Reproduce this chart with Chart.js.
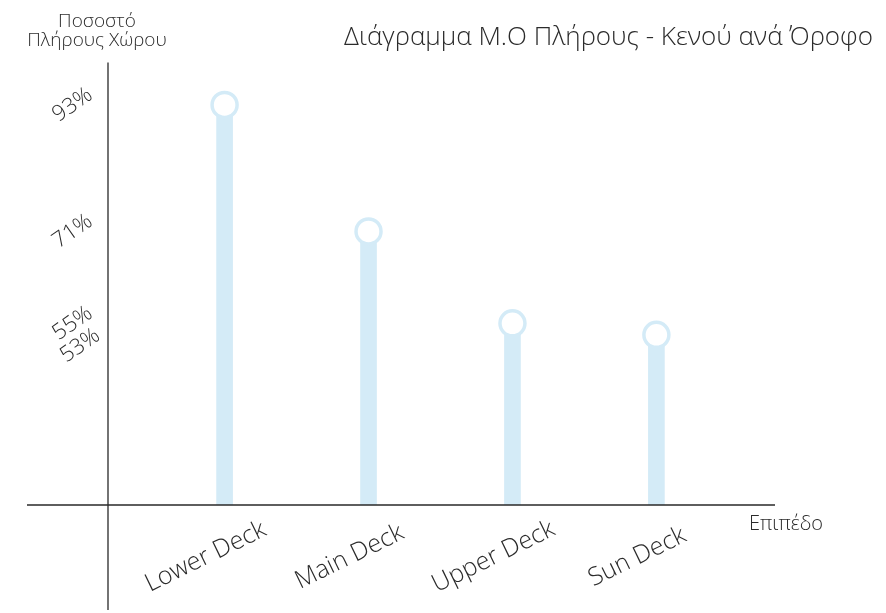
<!DOCTYPE html>
<html>
<head>
<meta charset="utf-8">
<title>Διάγραμμα Μ.Ο Πλήρους - Κενού ανά Όροφο</title>
<script src="https://cdn.jsdelivr.net/npm/chart.js@4/dist/chart.umd.min.js"></script>
<style>
  html, body { margin: 0; padding: 0; background: #fff; }
</style>
</head>
<body>
<canvas id="deckChart" width="886" height="613"></canvas>
<script>
// deck levels and average fullness per level (%)
const decks = ['Lower Deck', 'Main Deck', 'Upper Deck', 'Sun Deck'];
const fullness = [93, 71, 55, 53];
const yTicks = [53, 55, 71, 93];

const chartTitle = 'Διάγραμμα Μ.Ο Πλήρους - Κενού ανά Όροφο';
const yCaption = ['Ποσοστό', 'Πλήρους Χώρου'];
const xCaption = 'Επιπέδο';

const FONT = '"Open Sans", "Noto Sans", sans-serif';
const TEXT = '#2b2b2b';
const STEM = '#d4ebf7';
const Y_MIN = 23.4;
const Y_MAX = 100.4;
const X_ROT = 26;

Chart.defaults.font.family = FONT;
Chart.defaults.font.weight = '300';
Chart.defaults.color = TEXT;

// axes that cross past each other, captions and slanted deck names
const crossAxes = {
    id: 'crossAxes',
    afterDraw(chart) {
        const { ctx, chartArea } = chart;
        const { left, right, top, bottom } = chartArea;
        const xs = chart.scales.x;

        ctx.save();
        ctx.strokeStyle = '#2a2a2a';
        ctx.lineWidth = 1.3;
        ctx.beginPath();
        ctx.moveTo(left, top);
        ctx.lineTo(left, bottom + 105);
        ctx.moveTo(left - 81, bottom);
        ctx.lineTo(right - 95, bottom);
        ctx.stroke();

        ctx.fillStyle = TEXT;
        ctx.font = `300 19px ${FONT}`;
        ctx.textAlign = 'center';
        ctx.textBaseline = 'alphabetic';
        ctx.fillText(yCaption[0], left - 11, top - 35);
        ctx.fillText(yCaption[1], left - 11, top - 16);

        ctx.font = `300 20px ${FONT}`;
        ctx.textAlign = 'left';
        ctx.fillText(xCaption, right - 121, bottom + 25);

        ctx.font = `300 25px ${FONT}`;
        ctx.textAlign = 'center';
        ctx.textBaseline = 'middle';
        decks.forEach((name, i) => {
            const px = xs.getPixelForValue(i);
            ctx.save();
            ctx.translate(px - 19, bottom + 52);
            ctx.rotate(-X_ROT * Math.PI / 180);
            ctx.fillText(name, 0, 0);
            ctx.restore();
        });
        ctx.restore();
    }
};

new Chart(document.getElementById('deckChart'), {
    type: 'bar',
    data: {
        datasets: [
            {
                type: 'line',
                data: fullness.map((v, i) => ({ x: i, y: v })),
                showLine: false,
                pointRadius: 12.5,
                pointHoverRadius: 12.5,
                pointBorderWidth: 3.5,
                pointBackgroundColor: '#ffffff',
                pointBorderColor: STEM,
                order: 0
            },
            {
                type: 'bar',
                data: fullness.map((v, i) => ({ x: i, y: v })),
                backgroundColor: STEM,
                barThickness: 16,
                base: Y_MIN,
                order: 1
            }
        ]
    },
    options: {
        responsive: false,
        animation: false,
        events: [],
        layout: { padding: { left: 0, right: 13, top: 0, bottom: 0 } },
        plugins: {
            legend: { display: false },
            tooltip: { enabled: false },
            title: {
                display: true,
                text: chartTitle,
                align: 'end',
                color: TEXT,
                font: { size: 26, weight: '300' },
                padding: { top: 22.3, bottom: 8.9 }
            }
        },
        scales: {
            x: {
                type: 'linear',
                min: -0.81,
                max: 4.484,
                offset: false,
                grid: { display: false, drawTicks: false },
                border: { display: false },
                ticks: { display: false, autoSkip: false },
                afterBuildTicks: (scale) => {
                    scale.ticks = decks.map((_, i) => ({ value: i }));
                },
                afterFit: (scale) => { scale.height = 108; }
            },
            y: {
                type: 'linear',
                min: Y_MIN,
                max: Y_MAX,
                grid: { display: false, drawTicks: false },
                border: { display: false },
                ticks: {
                    autoSkip: false,
                    minRotation: 35,
                    maxRotation: 35,
                    crossAlign: 'center',
                    padding: 14,
                    color: TEXT,
                    font: { size: 22, weight: '300' },
                    // push a label down one line when the tick above sits too close
                    callback: (v, i, ticks) => {
                        const next = ticks[i + 1];
                        return next && next.value - v < 5 ? ['', v + '%'] : v + '%';
                    }
                },
                afterBuildTicks: (scale) => {
                    scale.ticks = yTicks.map(v => ({ value: v }));
                },
                afterFit: (scale) => { scale.width = 108; }
            }
        }
    },
    plugins: [crossAxes]
});
</script>
</body>
</html>
